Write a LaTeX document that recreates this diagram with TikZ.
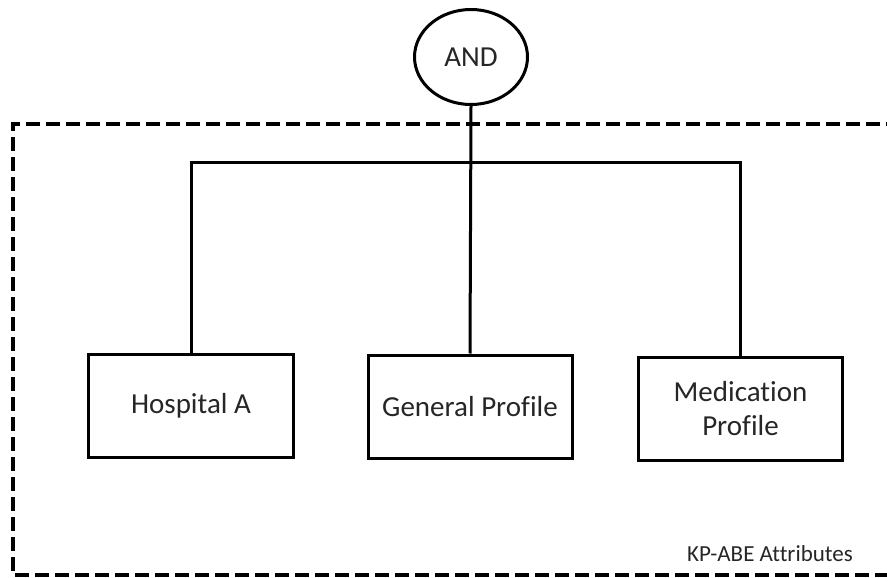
\documentclass[tikz,border=0pt]{standalone}
\usepackage{fontspec}
\setmainfont[Ligatures=NoCommon]{Carlito}
\usetikzlibrary{shapes.geometric}
\definecolor{labelgray}{HTML}{262626}
\begin{document}
\begin{tikzpicture}[x=1bp,y=-1bp,
  line join=miter,
  gate/.style={ellipse,draw,line width=3bp,minimum width=113bp,minimum height=95bp,inner sep=0pt,
    text=labelgray,font=\fontsize{29bp}{34bp}\selectfont},
  attrbox/.style={rectangle,draw,line width=3bp,minimum width=204bp,minimum height=103bp,inner sep=0pt,
    align=center,text=labelgray,font=\fontsize{29bp}{34bp}\selectfont},
  wire/.style={line width=3bp},
  scopebox/.style={dashed,line width=4.5bp,dash pattern=on 14bp off 6bp}
]
\useasboundingbox (0,0) rectangle (887,578);
\begin{scope}
\clip (0,0) rectangle (887,578);
% dashed region holding the attributes (open to the right and bottom edges)
\draw[scopebox] (900,124) -- (13,124) -- (13,575) -- (900,575);
\end{scope}

% threshold gate
\node[gate] (and) at (471,57) {AND};

% attribute leaves
\node[attrbox] (hosp) at (191,405.5) {Hospital A};
\node[attrbox] (gen)  at (470,406.5) {General Profile};
\node[attrbox] (med)  at (740.5,408.5) {Medication\\Profile};

% tree wiring
\coordinate (bar) at (470,163);
\draw[wire] (and.south) -- (gen.north);
\draw[wire] (hosp.north) |- (bar) -| (med.north);

% region caption
\node[anchor=base,inner sep=0pt,text=labelgray,font=\fontsize{23bp}{26bp}\selectfont] (cap) at (770,561) {KP-ABE Attributes};
\end{tikzpicture}
\end{document}
